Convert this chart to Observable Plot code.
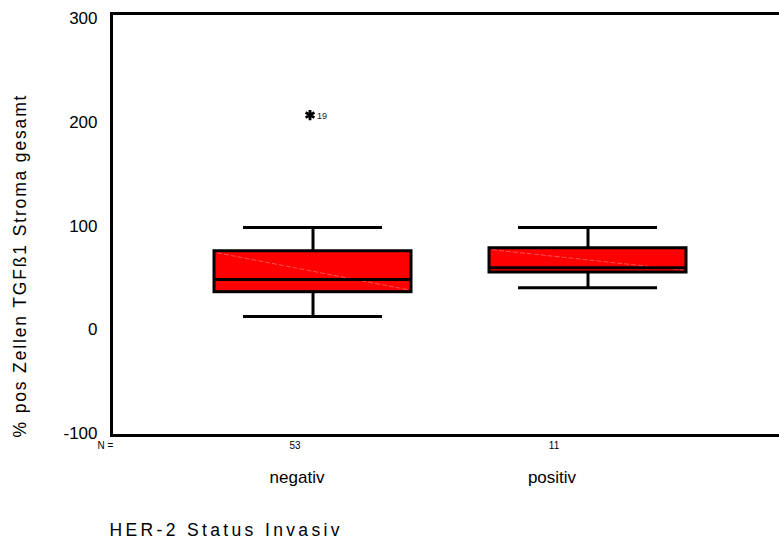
<!DOCTYPE html>
<html>
<head>
<meta charset="utf-8">
<script src="https://cdn.jsdelivr.net/npm/d3@7"></script>
<script src="https://cdn.jsdelivr.net/npm/@observablehq/plot@0.6"></script>
<style>
  html, body { margin: 0; padding: 0; background: #fff; overflow: hidden; }
  #chart { width: 779px; height: 542px; }
</style>
</head>
<body>
<div id="chart"></div>
<script>
// ---- data ----
const categories = ["negativ", "positiv"];
const nCounts = [53, 11];
const whiskerLow = [12.7, 40.4];
const q1 = [36.2, 55.2];
const median = [48.4, 59.7];
const q3 = [75.7, 78.6];
const whiskerHigh = [98.6, 98.6];
const outlierCategory = ["negativ"];
const outlierValue = [207];
const outlierLabel = ["19"];
const yTicks = [-100, 0, 100, 200, 300];
const yTitle = "% pos Zellen TGFß1 Stroma gesamt";
const xTitle = "HER-2 Status Invasiv";

const stats = categories.map((c, i) => ({
  cat: c, n: nCounts[i], lo: whiskerLow[i], q1: q1[i], med: median[i], q3: q3[i], hi: whiskerHigh[i]
}));
const outliers = outlierCategory.map((c, i) => ({cat: c, v: outlierValue[i], label: outlierLabel[i]}));

const font = "'Liberation Sans', Arial, Helvetica, sans-serif";

const plot = Plot.plot({
  width: 779,
  height: 542,
  marginLeft: 111,
  marginRight: -9,
  marginTop: 13,
  marginBottom: 107,
  style: {fontFamily: font, fontSize: "17px", background: "#fff", color: "#000"},
  x: {type: "band", domain: categories, paddingInner: 0.2852, paddingOuter: 0.3708, align: 0.5, axis: null},
  y: {domain: [-102, 305], axis: null},
  marks: [
    Plot.axisY({ticks: yTicks, tickSize: 0, tickPadding: 14, fontSize: 17, label: null, tickFormat: d => d < 0 ? "-" + Math.abs(d) : String(d)}),
    // whisker stems
    Plot.ruleX(stats, {x: "cat", y1: "lo", y2: "q1", stroke: "#000", strokeWidth: 3}),
    Plot.ruleX(stats, {x: "cat", y1: "q3", y2: "hi", stroke: "#000", strokeWidth: 3}),
    // whisker caps
    Plot.tickY(stats, {x: "cat", y: "lo", stroke: "#000", strokeWidth: 3, inset: 29}),
    Plot.tickY(stats, {x: "cat", y: "hi", stroke: "#000", strokeWidth: 3, inset: 29}),
    // boxes
    Plot.barY(stats, {x: "cat", y1: "q1", y2: "q3", fill: "#ff0000", stroke: "#000", strokeWidth: 3}),
    // medians
    Plot.tickY(stats, {x: "cat", y: "med", stroke: "#000", strokeWidth: 3}),
    // outlier
    Plot.text(outliers, {x: "cat", y: "v", text: "label", textAnchor: "start", lineAnchor: "middle", dx: 4, dy: 1, fontSize: 9, fill: "#222"}),
    Plot.dot(outliers, {x: "cat", y: "v", symbol: "asterisk", r: 4.8, stroke: "#000", strokeWidth: 2.8, dx: -3}),
    // frame
    Plot.frame({stroke: "#000", strokeWidth: 3}),
    // N row
    Plot.text(["N ="], {frameAnchor: "bottom-left", dx: -6, dy: 10, fontSize: 10, textAnchor: "middle", lineAnchor: "middle"}),
    Plot.text(stats.filter(d => d.cat === categories[0]), {x: "cat", frameAnchor: "bottom", text: d => String(d.n), dx: -18, dy: 10, fontSize: 10, lineAnchor: "middle"}),
    Plot.text(stats.filter(d => d.cat === categories[1]), {x: "cat", frameAnchor: "bottom", text: d => String(d.n), dx: -34, dy: 10, fontSize: 10, lineAnchor: "middle"}),
    // category labels
    Plot.text(stats.filter(d => d.cat === categories[0]), {x: "cat", frameAnchor: "bottom", text: "cat", dx: -16, dy: 42, fontSize: 17, lineAnchor: "middle"}),
    Plot.text(stats.filter(d => d.cat === categories[1]), {x: "cat", frameAnchor: "bottom", text: "cat", dx: -36, dy: 42, fontSize: 17, lineAnchor: "middle"}),
    // titles
    Plot.text([xTitle], {frameAnchor: "bottom-left", textAnchor: "start", lineAnchor: "middle", dx: -2, dy: 95, fontSize: 17.5}),
    Plot.text([yTitle], {frameAnchor: "left", textAnchor: "middle", lineAnchor: "middle", rotate: -90, dx: -91, dy: 42, fontSize: 17.5})
  ]
});

document.getElementById("chart").appendChild(plot);

// stretch titles as in the reference (letter-spaced rendering)
d3.select(plot).selectAll("text").each(function() {
  const t = this.textContent;
  if (t === xTitle) d3.select(this).attr("textLength", 230).attr("lengthAdjust", "spacing");
  if (t === yTitle) d3.select(this).attr("textLength", 342).attr("lengthAdjust", "spacing");
});

// faint diagonal rendering artifact inside each box, from its scales
const xs = plot.scale("x"), ys = plot.scale("y");
const g = d3.select(plot).append("g").attr("aria-label", "box-shading");
stats.forEach(d => {
  const x0 = xs.apply(d.cat) + 3, x1 = xs.apply(d.cat) + xs.bandwidth - 3;
  g.append("line")
    .attr("x1", x0).attr("y1", ys.apply(d.q3) + 2)
    .attr("x2", x1).attr("y2", ys.apply(d.q1) - 2)
    .attr("stroke", "#ffb0b0").attr("stroke-opacity", 0.7).attr("stroke-width", 0.7).attr("stroke-dasharray", "5,2");
});
// keep median lines and frame above the shading
d3.select(plot).selectAll('g[aria-label="tick"]').raise();
d3.select(plot).selectAll('g[aria-label="frame"]').raise();
</script>
</body>
</html>
